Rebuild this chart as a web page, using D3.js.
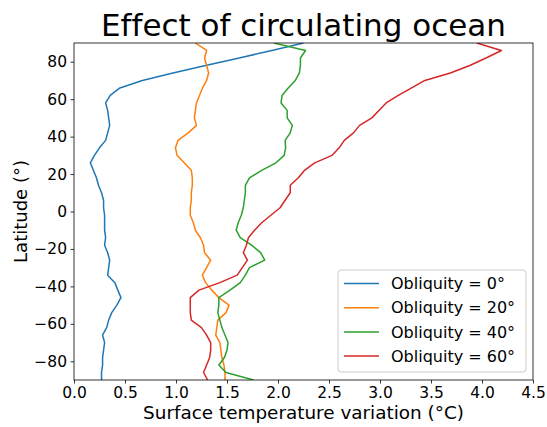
<!DOCTYPE html>
<html>
<head>
<meta charset="utf-8">
<script src="https://cdn.jsdelivr.net/npm/d3@7"></script>
<style>
  body { margin: 0; background: #fff; }
  text { font-family: "DejaVu Sans", sans-serif; font-variant-ligatures: none; }
</style>
</head>
<body>
<div id="chart"></div>
<script>
// latitudes (deg), north to south
const latitudes = d3.range(90, -91, -4);  // 90, 86, ..., -90
const obliquity0 = [2.25, 1.94, 1.62, 1.29, 0.97, 0.67, 0.45, 0.355, 0.31, 0.33, 0.34, 0.35, 0.33, 0.31, 0.25, 0.20,
  0.16, 0.19, 0.22, 0.24, 0.27, 0.29, 0.29, 0.30, 0.30, 0.30, 0.31, 0.30, 0.33, 0.35, 0.34, 0.33,
  0.40, 0.43, 0.46, 0.42, 0.37, 0.34, 0.32, 0.28, 0.30, 0.29, 0.28, 0.28, 0.27, 0.27];
const obliquity20 = [1.19, 1.30, 1.28, 1.30, 1.32, 1.30, 1.26, 1.23, 1.20, 1.19, 1.18, 1.20, 1.12, 1.02, 0.995, 1.01,
  1.08, 1.15, 1.16, 1.16, 1.15, 1.15, 1.14, 1.14, 1.17, 1.19, 1.24, 1.27, 1.28, 1.34, 1.30, 1.258,
  1.29, 1.35, 1.42, 1.52, 1.49, 1.41, 1.40, 1.39, 1.43, 1.44, 1.45, 1.47, 1.48, 1.48];
const obliquity40 = [1.96, 2.27, 2.22, 2.22, 2.21, 2.17, 2.10, 2.04, 2.03, 2.09, 2.09, 2.14, 2.12, 2.07, 2.075, 2.06,
  1.98, 1.84, 1.72, 1.68, 1.68, 1.67, 1.66, 1.64, 1.61, 1.59, 1.63, 1.74, 1.83, 1.87, 1.72, 1.68,
  1.63, 1.53, 1.42, 1.42, 1.41, 1.43, 1.45, 1.48, 1.51, 1.50, 1.475, 1.42, 1.49, 1.76];
const obliquity60 = [3.95, 4.19, 4.04, 3.88, 3.69, 3.44, 3.31, 3.18, 3.06, 2.99, 2.92, 2.80, 2.74, 2.65, 2.60, 2.53,
  2.36, 2.26, 2.20, 2.12, 2.12, 2.07, 2.02, 1.93, 1.84, 1.77, 1.71, 1.69, 1.66, 1.70, 1.65, 1.60,
  1.43, 1.225, 1.14, 1.14, 1.14, 1.15, 1.25, 1.30, 1.34, 1.34, 1.33, 1.30, 1.27, 1.31];

const seriesNames = ["Obliquity = 0°", "Obliquity = 20°", "Obliquity = 40°", "Obliquity = 60°"];
const seriesValues = [obliquity0, obliquity20, obliquity40, obliquity60];
const colors = ["#1f77b4", "#ff7f0e", "#2ca02c", "#d62728"];
const xTicks = d3.range(0, 4.51, 0.5);
const yTicks = d3.range(-80, 81, 20);

const W = 547, H = 427;
const margin = {top: 43, right: 14, bottom: 47, left: 74};
const width = W - margin.left - margin.right,
      height = H - margin.top - margin.bottom;

const svg = d3.select("#chart").append("svg")
    .attr("width", W)
    .attr("height", H);

const g = svg.append("g")
    .attr("transform", `translate(${margin.left},${margin.top})`);

const x = d3.scaleLinear().domain([0, 4.5]).range([0, width]);
const y = d3.scaleLinear().domain([-90, 90]).range([height, 0]);

g.append("clipPath").attr("id", "clip")
  .append("rect").attr("width", width).attr("height", height);

const line = d3.line()
    .x(d => x(d[0]))
    .y(d => y(d[1]));

const lines = g.append("g").attr("clip-path", "url(#clip)");
seriesValues.forEach((vals, i) => {
    lines.append("path")
        .datum(vals.map((v, j) => [v, latitudes[j]]))
        .attr("fill", "none")
        .attr("stroke", colors[i])
        .attr("stroke-width", 1.5)
        .attr("stroke-linejoin", "round")
        .attr("d", line);
});

// axes
const xAxis = g.append("g")
    .attr("transform", `translate(0,${height})`)
    .call(d3.axisBottom(x).tickValues(xTicks).tickFormat(d3.format(".1f")).tickSize(3.5).tickPadding(3.5));
const yAxis = g.append("g")
    .call(d3.axisLeft(y).tickValues(yTicks).tickFormat(d => d < 0 ? "\u2212" + Math.abs(d) : d).tickSize(3.5).tickPadding(3.5));

[xAxis, yAxis].forEach(a => {
    a.selectAll("text").attr("font-size", 15.5).attr("fill", "#000")
        .style("font-family", "DejaVu Sans, sans-serif");
    a.selectAll("line").attr("stroke", "#000").attr("stroke-width", 0.8);
    a.select(".domain").remove();
});

g.append("rect")
    .attr("width", width).attr("height", height)
    .attr("fill", "none").attr("stroke", "#000").attr("stroke-width", 0.8);

// titles
svg.append("text")
    .attr("x", margin.left + width / 2).attr("y", 36)
    .attr("text-anchor", "middle").attr("font-size", 31)
    .text("Effect of circulating ocean");

svg.append("text")
    .attr("x", margin.left + width / 2).attr("y", 419)
    .attr("text-anchor", "middle").attr("font-size", 18.4)
    .text("Surface temperature variation (°C)");

svg.append("text")
    .attr("transform", `translate(27,${margin.top + height / 2}) rotate(-90)`)
    .attr("text-anchor", "middle").attr("font-size", 18)
    .text("Latitude (°)");

// legend
const legend = g.append("g").attr("transform", `translate(${338 - margin.left},${270 - margin.top})`);
legend.append("rect")
    .attr("width", 188).attr("height", 102).attr("rx", 3)
    .attr("fill", "#fff").attr("fill-opacity", 0.8)
    .attr("stroke", "#ccc").attr("stroke-width", 1);
seriesNames.forEach((name, i) => {
    const ly = 13.5 + i * 24.2;
    legend.append("line")
        .attr("x1", 6).attr("x2", 41).attr("y1", ly).attr("y2", ly)
        .attr("stroke", colors[i]).attr("stroke-width", 1.5);
    legend.append("text")
        .attr("x", 53).attr("y", ly).attr("dy", "0.36em")
        .attr("font-size", 16).text(name);
});
</script>
</body>
</html>
